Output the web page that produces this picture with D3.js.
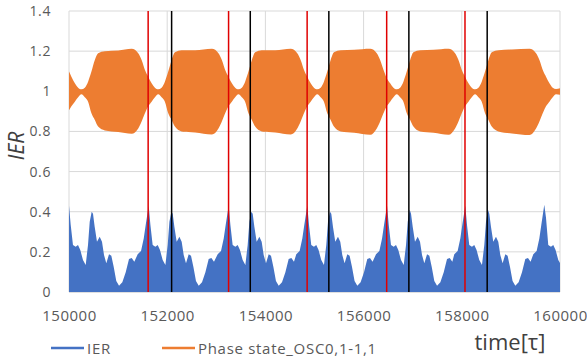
<html>
<head>
<script src="https://d3js.org/d3.v7.min.js"></script>
<style>
  body { margin: 0; background: #fff; }
  text { font-family: "Open Sans", sans-serif; }
</style>
</head>
<body>
<svg id="chart" width="587" height="360"></svg>
<script>
// tick values
const xTicks = [150000, 152000, 154000, 156000, 158000, 160000];
const yTicks = [0, 0.2, 0.4, 0.6, 0.8, 1, 1.2, 1.4];

// marker lines (time)
const redLines = [151612, 153250, 154850, 156470, 158065];
const blackLines = [152090, 153692, 155292, 156922, 158517];

// IER series
const ierT = [
  150000, 150035, 150081, 150136, 150183, 150230, 150285, 150340, 150387, 150422, 150462, 150489, 150523, 150570, 150625, 150672,
  150713, 150760, 150815, 150862, 150910, 150963, 151019, 151086, 151155, 151222, 151277, 151330, 151399, 151467, 151522, 151562,
  151623, 151658, 151704, 151759, 151806, 151853, 151908, 151963, 152010, 152045, 152085, 152112, 152146, 152193, 152248, 152295,
  152336, 152383, 152438, 152485, 152533, 152586, 152642, 152709, 152778, 152845, 152900, 152953, 153028, 153096, 153151, 153191,
  153252, 153287, 153333, 153388, 153435, 153482, 153537, 153592, 153639, 153674, 153714, 153741, 153775, 153822, 153877, 153924,
  153965, 154012, 154067, 154114, 154162, 154215, 154271, 154338, 154407, 154474, 154529, 154582, 154629, 154697, 154752, 154792,
  154853, 154888, 154934, 154989, 155036, 155083, 155138, 155193, 155240, 155275, 155315, 155342, 155376, 155423, 155478, 155525,
  155566, 155613, 155668, 155715, 155763, 155816, 155872, 155939, 156008, 156075, 156130, 156183, 156253, 156321, 156376, 156416,
  156477, 156512, 156558, 156613, 156660, 156707, 156762, 156817, 156864, 156899, 156939, 156966, 157000, 157047, 157102, 157149,
  157190, 157237, 157292, 157339, 157387, 157440, 157496, 157563, 157632, 157699, 157754, 157807, 157847, 157915, 157970, 158010,
  158071, 158106, 158152, 158207, 158254, 158301, 158356, 158411, 158458, 158493, 158533, 158560, 158594, 158641, 158696, 158743,
  158784, 158831, 158886, 158933, 158981, 159034, 159090, 159157, 159226, 159293, 159348, 159401, 159456, 159524, 159579, 159619,
  159680, 159715, 159761, 159816, 159863, 159910, 159965, 160000
];
const ierV = [
  0.43, 0.334, 0.234, 0.226, 0.234, 0.209, 0.159, 0.135, 0.234, 0.35, 0.40, 0.39, 0.325, 0.25, 0.275, 0.25,
  0.184, 0.143, 0.188, 0.18, 0.126, 0.055, 0.031, 0.048, 0.098, 0.164, 0.17, 0.151, 0.188, 0.204, 0.267, 0.334,
  0.43, 0.334, 0.234, 0.226, 0.234, 0.209, 0.159, 0.135, 0.234, 0.35, 0.40, 0.39, 0.325, 0.25, 0.275, 0.25,
  0.184, 0.143, 0.188, 0.18, 0.126, 0.055, 0.031, 0.048, 0.098, 0.164, 0.17, 0.151, 0.188, 0.204, 0.267, 0.334,
  0.43, 0.334, 0.234, 0.226, 0.234, 0.209, 0.159, 0.135, 0.234, 0.35, 0.40, 0.39, 0.325, 0.25, 0.275, 0.25,
  0.184, 0.143, 0.188, 0.18, 0.126, 0.055, 0.031, 0.048, 0.098, 0.164, 0.17, 0.151, 0.188, 0.204, 0.267, 0.334,
  0.43, 0.334, 0.234, 0.226, 0.234, 0.209, 0.159, 0.135, 0.234, 0.35, 0.40, 0.39, 0.325, 0.25, 0.275, 0.25,
  0.184, 0.143, 0.188, 0.18, 0.126, 0.055, 0.031, 0.048, 0.098, 0.164, 0.17, 0.151, 0.188, 0.204, 0.267, 0.334,
  0.43, 0.334, 0.234, 0.226, 0.234, 0.209, 0.159, 0.135, 0.234, 0.35, 0.41, 0.39, 0.325, 0.25, 0.275, 0.25,
  0.184, 0.143, 0.188, 0.18, 0.126, 0.055, 0.031, 0.048, 0.098, 0.164, 0.17, 0.151, 0.188, 0.204, 0.267, 0.334,
  0.43, 0.334, 0.234, 0.226, 0.234, 0.209, 0.159, 0.135, 0.234, 0.35, 0.41, 0.39, 0.325, 0.25, 0.275, 0.25,
  0.184, 0.143, 0.188, 0.18, 0.126, 0.055, 0.031, 0.048, 0.098, 0.164, 0.17, 0.151, 0.188, 0.204, 0.267, 0.334,
  0.435, 0.37, 0.234, 0.226, 0.234, 0.209, 0.16, 0.145
];

// Phase state_OSC0,1-1,1 : upper and lower envelope of the oscillation
const oscT = [
  150000, 150049, 150119, 150186, 150253, 150322, 150389, 150457, 150526, 150593, 150730, 151003,
  151277, 151410, 151479, 151560, 151613, 151683, 151750, 151817, 151886, 151953, 152021, 152090, 152157, 152294, 152567,
  152911, 153044, 153113, 153194, 153247, 153317, 153384, 153451, 153520, 153587, 153655, 153724, 153791, 153928, 154201,
  154516, 154649, 154718, 154799, 154852, 154922, 154989, 155056, 155125, 155192, 155260, 155329, 155396, 155533, 155806,
  156135, 156268, 156337, 156418, 156471, 156541, 156608, 156675, 156744, 156811, 156879, 156948, 157015, 157152, 157425,
  157730, 157863, 157932, 158013, 158066, 158136, 158203, 158270, 158339, 158406, 158474, 158543, 158610, 158747, 159020,
  159379, 159512, 159581, 159662, 159715, 159785, 159852, 159919, 160000
];
const oscHi = [
  1.098, 1.073, 1.040, 1.018, 1.010, 1.018, 1.048, 1.098, 1.156, 1.190, 1.200, 1.203,
  1.212, 1.190, 1.156, 1.098, 1.073, 1.040, 1.018, 1.010, 1.018, 1.048, 1.098, 1.156, 1.195, 1.205, 1.205,
  1.212, 1.190, 1.156, 1.098, 1.073, 1.040, 1.018, 1.010, 1.018, 1.048, 1.098, 1.156, 1.195, 1.205, 1.205,
  1.212, 1.190, 1.156, 1.098, 1.073, 1.040, 1.018, 1.010, 1.018, 1.048, 1.098, 1.156, 1.195, 1.205, 1.207,
  1.212, 1.190, 1.156, 1.098, 1.065, 1.040, 1.018, 1.010, 1.018, 1.048, 1.098, 1.156, 1.195, 1.205, 1.207,
  1.212, 1.190, 1.156, 1.098, 1.073, 1.040, 1.018, 1.010, 1.018, 1.048, 1.098, 1.156, 1.195, 1.205, 1.208,
  1.212, 1.190, 1.156, 1.098, 1.073, 1.040, 1.018, 1.012, 1.015
];
const oscLo = [
  0.905, 0.925, 0.948, 0.970, 0.985, 0.970, 0.948, 0.890, 0.857, 0.824, 0.805, 0.797,
  0.788, 0.815, 0.850, 0.898, 0.925, 0.948, 0.970, 0.985, 0.970, 0.948, 0.890, 0.857, 0.824, 0.800, 0.795,
  0.785, 0.815, 0.850, 0.898, 0.925, 0.948, 0.970, 0.985, 0.970, 0.948, 0.890, 0.857, 0.824, 0.800, 0.795,
  0.785, 0.815, 0.850, 0.898, 0.925, 0.948, 0.970, 0.985, 0.970, 0.948, 0.890, 0.857, 0.824, 0.800, 0.793,
  0.783, 0.815, 0.850, 0.898, 0.925, 0.948, 0.970, 0.985, 0.970, 0.948, 0.890, 0.857, 0.824, 0.800, 0.793,
  0.783, 0.815, 0.850, 0.898, 0.925, 0.948, 0.970, 0.985, 0.970, 0.948, 0.890, 0.857, 0.824, 0.800, 0.790,
  0.782, 0.815, 0.850, 0.898, 0.925, 0.948, 0.970, 0.985, 0.983
];

const svg = d3.select("#chart");
const mLeft = 69, mRight = 560, mTop = 11, mBottom = 292;

const x = d3.scaleLinear().domain([150000, 160000]).range([mLeft, mRight]);
const y = d3.scaleLinear().domain([0, 1.4]).range([mBottom, mTop]);

// grid
svg.append("g").selectAll("line").data(yTicks).enter().append("line")
  .attr("x1", mLeft).attr("x2", mRight)
  .attr("y1", d => y(d)).attr("y2", d => y(d))
  .style("stroke", d => d === 0 ? "#bfbfbf" : "#d9d9d9").style("stroke-width", "1px");
svg.append("g").selectAll("line").data(xTicks).enter().append("line")
  .attr("x1", d => x(d)).attr("x2", d => x(d))
  .attr("y1", mTop).attr("y2", mBottom)
  .style("stroke", "#d9d9d9").style("stroke-width", "1px");

// orange band
const oscData = oscT.map((t, i) => ({t: t, hi: oscHi[i], lo: oscLo[i]}));
const band = d3.area().curve(d3.curveMonotoneX)
  .x(d => x(d.t)).y0(d => y(d.lo)).y1(d => y(d.hi));
svg.append("path").datum(oscData).attr("d", band).style("fill", "#ED7D31");

// IER area
const ierData = ierT.map((t, i) => ({t: t, v: ierV[i]}));
const ierArea = d3.area().x(d => x(d.t)).y0(y(0)).y1(d => y(d.v));
svg.append("path").datum(ierData).attr("d", ierArea).style("fill", "#4472C4");

// marker lines
svg.append("g").selectAll("line").data(redLines).enter().append("line")
  .attr("x1", d => x(d)).attr("x2", d => x(d)).attr("y1", mTop).attr("y2", mBottom)
  .style("stroke", "#e00000").style("stroke-width", "1.5px");
svg.append("g").selectAll("line").data(blackLines).enter().append("line")
  .attr("x1", d => x(d)).attr("x2", d => x(d)).attr("y1", mTop).attr("y2", mBottom)
  .style("stroke", "#000").style("stroke-width", "1.5px");

// axes
const yAxis = d3.axisLeft(y).tickValues(yTicks).tickSize(0).tickPadding(18).tickFormat(d3.format("~g"));
const ga = svg.append("g").attr("transform", "translate(" + mLeft + ",0)").call(yAxis);
ga.select(".domain").remove();
ga.selectAll("text").style("font-size", "14px").style("letter-spacing", "0.6px").style("fill", "#595959").style("font-family", "Open Sans");

const xAxis = d3.axisBottom(x).tickValues(xTicks).tickSize(0).tickPadding(18).tickFormat(d3.format("d"));
const gx = svg.append("g").attr("transform", "translate(0," + mBottom + ")").call(xAxis);
gx.select(".domain").remove();
gx.selectAll("text").style("font-size", "15px").style("letter-spacing", "0.5px").style("fill", "#595959").style("font-family", "Open Sans");

// titles
svg.append("text").attr("transform", "translate(24,146) rotate(-90)")
  .attr("text-anchor", "middle").style("font-size", "21px").style("font-style", "italic")
  .style("fill", "#404040").text("IER");
svg.append("text").attr("x", 510).attr("y", 350).attr("text-anchor", "middle")
  .style("font-size", "22px").style("fill", "#404040").text("time[τ]");

// legend
const legend = [
  {name: "IER", color: "#4472C4", x: 51},
  {name: "Phase state_OSC0,1-1,1", color: "#ED7D31", x: 162}
];
const lg = svg.append("g").selectAll("g").data(legend).enter().append("g");
lg.append("line").attr("x1", d => d.x).attr("x2", d => d.x + 33).attr("y1", 348).attr("y2", 348)
  .style("stroke", d => d.color).style("stroke-width", "2.5px");
lg.append("text").attr("x", d => d.x + 36).attr("y", 353.5)
  .style("font-size", "15px").style("letter-spacing", "0.7px").style("fill", "#595959").text(d => d.name);
</script>
</body>
</html>
